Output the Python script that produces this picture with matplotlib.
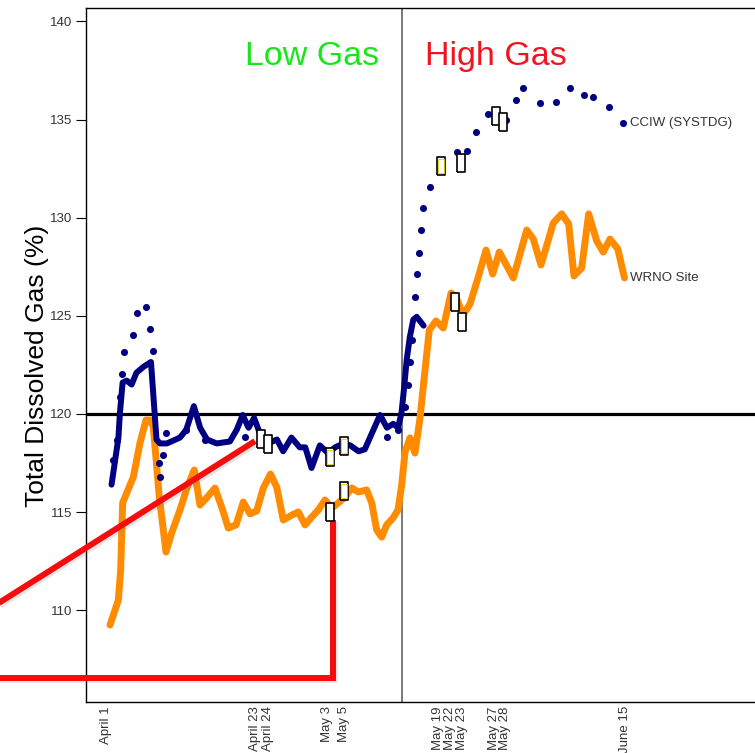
import matplotlib
matplotlib.use("Agg")
import matplotlib.pyplot as plt
import matplotlib.patheffects as pe

plt.rcParams['font.family'] = ['Liberation Sans', 'DejaVu Sans']

# ---------------- data (days since April 1, % TDG) ----------------
blue_day = [0.8, 1.3, 1.8, 2.0, 2.4, 3.0, 3.7, 4.4, 5.4, 6.5, 7.3, 7.8, 8.8, 10.7, 11.6,
            12.7, 13.6, 14.6, 16.0, 17.9, 18.9, 19.75, 20.6, 21.4, 22.25, 23.4, 24.7,
            25.6, 26.8, 28.0, 28.8, 29.7, 30.9, 32.1, 33.1, 34.3, 35.3, 36.5, 37.4,
            38.4, 39.6, 40.6, 41.5, 42.2, 42.7, 43.1, 43.45, 43.9, 44.4, 44.9, 45.9]
blue_val = [116.4, 117.6, 118.8, 120.0, 121.6, 121.7, 121.5, 122.1, 122.4, 122.65, 118.7,
            118.5, 118.5, 118.8, 119.2, 120.4, 119.3, 118.7, 118.5, 118.6, 119.2, 119.95,
            119.3, 119.8, 119.0, 118.5, 118.7, 118.1, 118.8, 118.3, 118.3, 117.25, 118.4,
            118.0, 118.3, 118.5, 118.4, 118.1, 118.2, 119.0, 119.95, 119.3, 119.5, 119.3,
            120.05, 121.4, 122.75, 123.9, 124.8, 124.95, 124.5]

dot_day = [0.97, 1.55, 2.02, 2.27, 2.60, 3.95, 4.44, 5.78, 6.36, 6.75, 7.66, 7.80, 8.28,
           8.67, 11.56, 14.31, 20.09, 40.61, 42.2, 43.21, 43.68, 43.93, 44.18, 44.65,
           44.90, 45.23, 45.48, 45.77, 46.82, 48.34, 50.77, 52.21, 53.51, 55.25, 57.80,
           59.21, 60.30, 62.67, 65.03, 67.01, 69.12, 70.42, 72.64, 74.75]
dot_val = [117.66, 118.68, 120.87, 122.04, 123.17, 124.02, 125.13, 125.47, 124.31, 123.21,
           117.52, 116.81, 117.91, 119.03, 119.18, 118.68, 118.83, 118.83, 119.18, 120.36,
           121.48, 122.65, 123.77, 125.98, 127.12, 128.22, 129.37, 130.48, 131.58, 132.53,
           133.33, 133.38, 134.35, 135.27, 134.98, 135.97, 136.62, 135.83, 135.89, 136.59,
           136.25, 136.15, 135.65, 134.81]

orange_day = [0.58, 1.78, 2.12, 2.41, 2.75, 3.95, 4.91, 5.78, 6.36, 6.84, 7.70, 8.67, 9.49,
              10.69, 11.75, 12.76, 13.58, 14.64, 15.75, 16.86, 17.67, 18.79, 19.84, 20.81,
              21.78, 22.73, 23.77, 24.67, 25.62, 26.84, 27.79, 28.76, 29.73, 30.68, 31.65,
              32.62, 33.57, 34.54, 35.51, 36.46, 37.67, 38.40, 39.12, 39.84, 40.56, 41.47,
              42.20, 42.73, 43.21, 43.93, 44.65, 45.38, 46.10, 46.72, 47.69, 48.74, 49.86,
              50.58, 51.59, 52.60, 53.80, 54.91, 55.88, 56.84, 58.86, 60.80, 61.75, 62.86,
              64.64, 65.85, 66.86, 67.63, 68.74, 69.75, 70.91, 71.86, 72.83, 73.96, 74.93]
orange_val = [109.25, 110.52, 112.05, 115.47, 115.77, 116.79, 118.52, 119.69, 119.69, 119.34,
              115.77, 112.97, 113.94, 115.11, 116.28, 117.15, 115.36, 115.77, 116.23, 115.11,
              114.19, 114.35, 115.52, 114.91, 115.06, 116.23, 116.94, 116.28, 114.60, 114.85,
              115.01, 114.35, 114.75, 115.11, 115.62, 115.21, 115.47, 115.77, 116.23, 116.03,
              116.13, 115.47, 114.09, 113.73, 114.35, 114.70, 115.11, 116.38, 118.06, 118.78,
              118.01, 119.80, 122.24, 124.28, 124.74, 124.38, 126.16, 125.96, 125.04, 125.60,
              126.98, 128.35, 127.13, 128.25, 126.93, 129.37, 128.91, 127.59, 129.73, 130.19,
              129.68, 127.03, 127.44, 130.19, 128.81, 128.25, 128.91, 128.41, 126.93]

# sampling boxes
box_day = [22.36, 23.38, 32.37, 34.42, 32.37, 34.42, 48.38, 51.37, 56.39, 57.41, 50.43, 51.40]
box_val = [118.74, 118.46, 117.82, 118.39, 115.01, 116.06, 132.62, 132.80, 135.17, 134.85,
           125.72, 124.70]
box_yellow = [False, False, True, True, False, True, True, False, False, False, False, False]

tick_pos = [0, 21.6, 23.4, 32.0, 34.4, 48.0, 49.7, 51.4, 56.0, 57.6, 75.0]
tick_lab = ["April 1", "April 23", "April 24", "May 3", "May 5", "May 19", "May 22",
            "May 23", "May 27", "May 28", "June 15"]

threshold = 120
split_day = 42.8

# callout lines (days, %)
red1_day = [-15.6, 21.53]
red1_val = [110.35, 118.62]
red2_day = [-16.5, 32.8, 32.8]
red2_val = [106.55, 106.55, 114.6]

# ---------------- figure ----------------
W, H = 755, 753
fig = plt.figure(figsize=(W / 100, H / 100), dpi=100)
ax = fig.add_axes([86 / W, 51 / H, (820 - 86) / W, 694 / H])
ax.set_xlim(-2.89, (820 - 106) / 6.92)
ax.set_ylim(105.33, 140.68)

ax.plot(orange_day, orange_val, color='#ff8c00', lw=5.0, solid_joinstyle='round',
        solid_capstyle='round', zorder=2)
ax.plot(blue_day, blue_val, color='#000080', lw=4.3, solid_joinstyle='round',
        solid_capstyle='round', zorder=3)
ax.scatter(dot_day, dot_val, s=26, color='#000080', zorder=4, linewidths=0)

ax.axhline(threshold, color='black', lw=2.3, zorder=1)
ax.axvline(split_day, color='#555555', lw=1.1, zorder=1)

shadow = [pe.SimpleLineShadow(offset=(1.5, -1.5), shadow_color='gray', alpha=0.2), pe.Normal()]
ax.plot(red1_day, red1_val, color='#f50d0d', lw=4.3, clip_on=False, zorder=5,
        solid_capstyle='butt', path_effects=shadow)
ax.plot(red2_day, red2_val, color='#f50d0d', lw=4.3, clip_on=False, zorder=5,
        solid_capstyle='butt', solid_joinstyle='miter', path_effects=shadow)

rect = [(-0.42, -1), (0.42, -1), (0.42, 1), (-0.42, 1), (-0.42, -1)]
ax.plot(box_day, box_val, ls='none', marker=rect, markersize=12.5, mfc='white',
        mec='black', mew=1.2, zorder=6)
yd = [d for d, f in zip(box_day, box_yellow) if f]
yv = [v for v, f in zip(box_val, box_yellow) if f]
ax.plot(yd, yv, ls='none', marker=rect, markersize=10.6, mfc='none',
        mec='#e6d200', mew=0.6, zorder=7)

ax.text(dot_day[-1] + 1.0, dot_val[-1], "CCIW (SYSTDG)", fontsize=9.5, color='#333333',
        ha='left', va='center')
ax.text(orange_day[-1] + 0.8, orange_val[-1], "WRNO Site", fontsize=9.5, color='#333333',
        ha='left', va='center')

ax.text(29.84, 138.2, "Low Gas", fontsize=24.5, color='#19e619', ha='center', va='center')
ax.text(56.36, 138.2, "High Gas", fontsize=24.5, color='#f0141e', ha='center', va='center')

ax.set_yticks([110, 115, 120, 125, 130, 135, 140])
ax.tick_params(axis='y', direction='out', length=7, width=0.8, labelsize=9.5,
               labelcolor='#333333', pad=3)
ax.set_xticks(tick_pos)
ax.set_xticklabels(tick_lab, rotation=90, fontsize=9.5, color='#333333', ha='center',
                   va='top')
ax.tick_params(axis='x', length=0, pad=3)

for s in ['left', 'top', 'bottom']:
    ax.spines[s].set_color('black')
    ax.spines[s].set_linewidth(1.0)
ax.spines['right'].set_visible(False)

fig.text(37 / W, 1 - 366 / H, "Total Dissolved Gas (%)", rotation=90, fontsize=19,
         ha='center', va='center', color='black')

fig.savefig("out.png", dpi=100)
